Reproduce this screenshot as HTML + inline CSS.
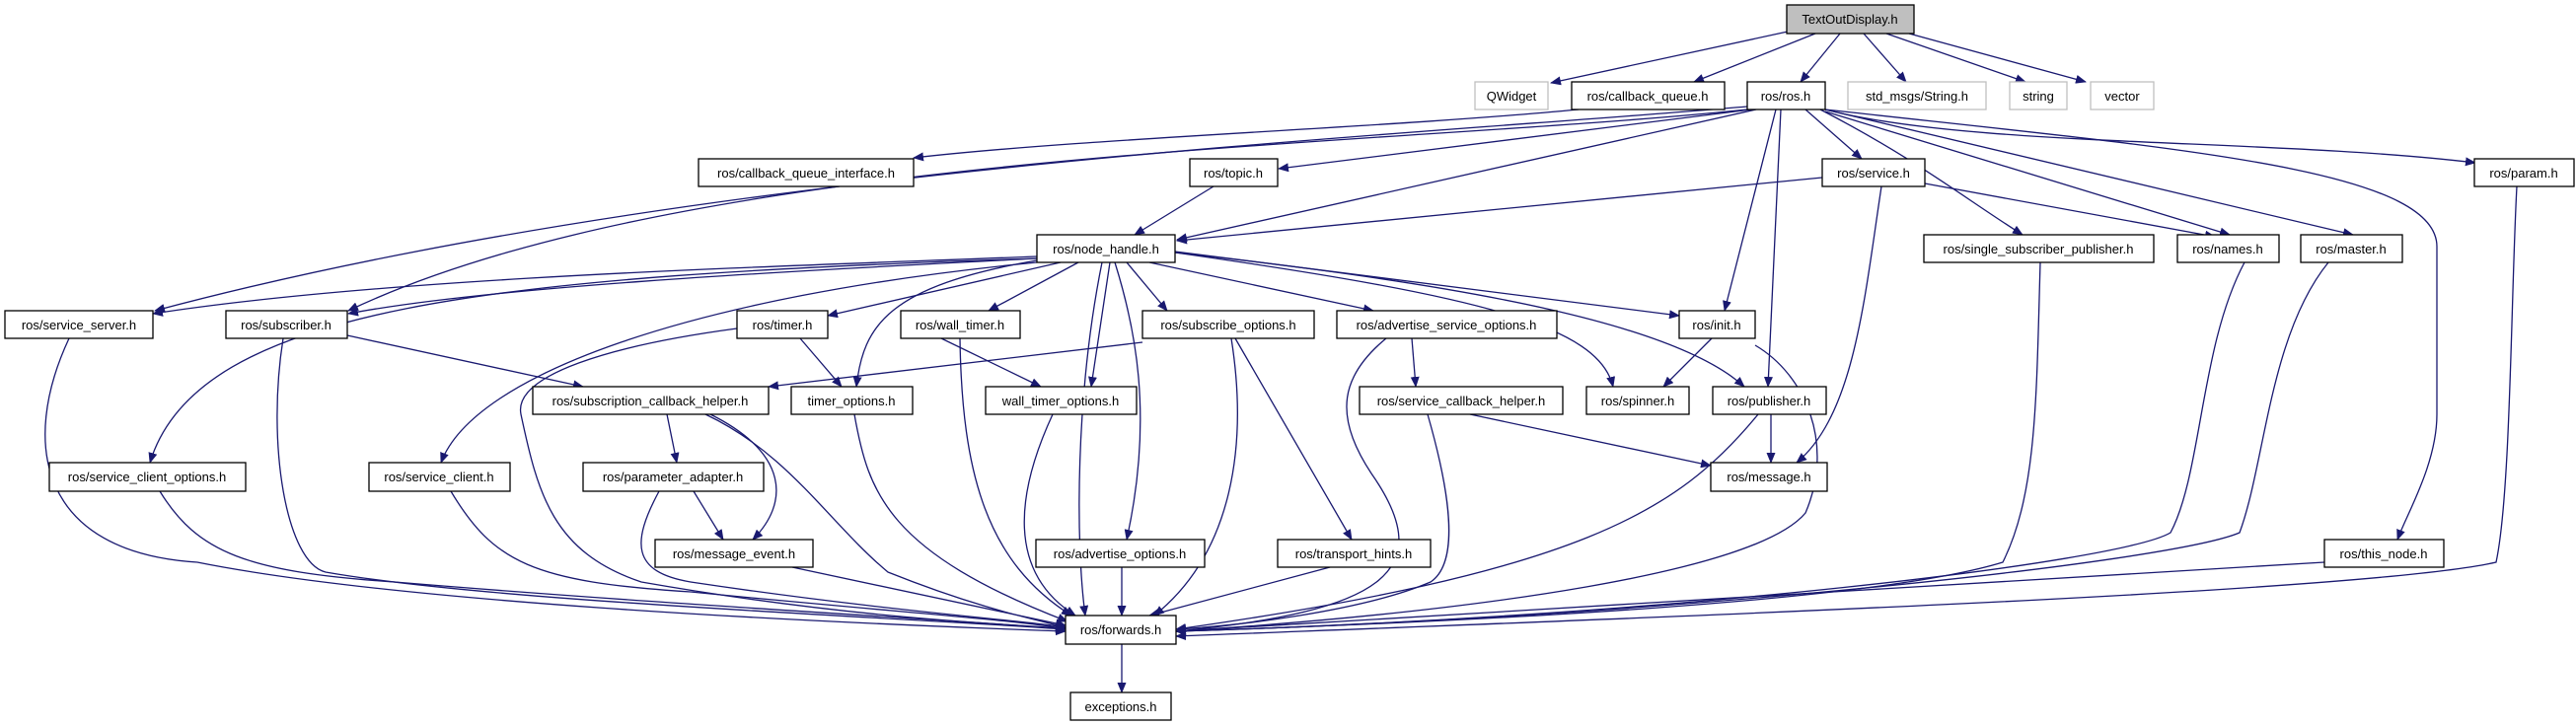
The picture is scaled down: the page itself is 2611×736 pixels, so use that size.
<!DOCTYPE html>
<html><head><meta charset="utf-8"><style>
html,body{margin:0;padding:0;background:#fff;}
svg{display:block;}
text{font-family:"Liberation Sans",sans-serif;font-size:13px;fill:#000;}
</style></head><body>
<svg width="2611" height="736" viewBox="0 0 2611 736" xmlns="http://www.w3.org/2000/svg">
<defs>
<marker id="a" markerWidth="11" markerHeight="9" refX="10" refY="4.5" orient="auto" markerUnits="userSpaceOnUse"><path d="M0,0 L11,4.5 L0,9z" fill="#191970"/></marker>
</defs>
<g fill="none" stroke="#191970" stroke-width="1.3" marker-end="url(#a)">
<path d="M1812,32 L1572,84"/>
<path d="M1840,34 L1717,83"/>
<path d="M1865,34 L1825,83"/>
<path d="M1889,34 L1932,83"/>
<path d="M1912,34 L2053,83"/>
<path d="M1935,34 L2114,83"/>
<path d="M1600,111 C1400,130 1100,140 926,160"/>
<path d="M1771,108 C1400,140 700,170 157,315"/>
<path d="M1771,111 C1400,150 700,150 353,315"/>
<path d="M1775,111 L1296,171"/>
<path d="M1780,111 L1193,243"/>
<path d="M1830,111 L1887,161"/>
<path d="M1800,111 L1748,315"/>
<path d="M1805,111 L1792,392"/>
<path d="M1845,111 C1940,160 1990,200 2050,238"/>
<path d="M1850,113 L2260,238"/>
<path d="M1850,111 L2385,238"/>
<path d="M1850,111 C2000,150 2300,140 2509,165"/>
<path d="M1850,111 C2200,150 2470,170 2470,250 L2470,420 C2470,470 2440,520 2430,547"/>
<path d="M1230,189 L1150,238"/>
<path d="M1847,180 L1193,244"/>
<path d="M1951,186 L2245,240"/>
<path d="M1907,189 C1890,300 1880,420 1821,469"/>
<path d="M1051,260 C800,270 400,280 155,318"/>
<path d="M1051,262 C800,275 500,290 353,318"/>
<path d="M1075,266 L839,320"/>
<path d="M1093,266 L1002,315"/>
<path d="M1051,264 C900,290 875,330 868,392"/>
<path d="M1125,266 L1106,392"/>
<path d="M1142,266 L1183,315"/>
<path d="M1165,266 L1392,315"/>
<path d="M1191,255 L1702,320"/>
<path d="M1191,256 C1500,300 1620,330 1635,392"/>
<path d="M1191,256 C1500,290 1700,330 1768,392"/>
<path d="M1130,266 C1150,330 1170,420 1142,547"/>
<path d="M1051,266 C700,300 480,380 447,469"/>
<path d="M1051,262 C500,280 200,310 152,469"/>
<path d="M352,340 L591,392"/>
<path d="M676,420 L686,469"/>
<path d="M720,420 C800,460 800,510 763,547"/>
<path d="M703,498 L733,547"/>
<path d="M811,343 L853,392"/>
<path d="M954,343 L1055,392"/>
<path d="M1158,347 L779,392"/>
<path d="M1252,343 L1370,547"/>
<path d="M1431,343 L1435,392"/>
<path d="M1490,420 L1734,472"/>
<path d="M1735,343 L1686,392"/>
<path d="M1795,420 L1795,469"/>
<path d="M1137,653 L1137,702"/>
<!-- to forwards -->
<path d="M1117,266 C1090,400 1090,550 1100,624"/>
<path d="M287,343 C270,450 290,570 330,580 C500,610 900,625 1080,638"/>
<path d="M70,343 C20,450 40,560 200,570 C400,610 800,630 1080,640"/>
<path d="M162,498 C200,560 250,580 400,590 C700,615 1000,630 1080,638"/>
<path d="M457,498 C500,570 540,590 700,600 C900,620 1050,630 1080,638"/>
<path d="M715,420 C800,460 840,530 900,580 C1000,620 1060,630 1080,636"/>
<path d="M668,498 C640,550 640,580 700,590 C900,620 1050,630 1080,636"/>
<path d="M803,575 L1080,634"/>
<path d="M747,333 C620,350 520,380 528,420 C545,500 560,560 650,590 C850,625 1000,632 1080,637"/>
<path d="M866,420 C880,500 900,560 1082,630"/>
<path d="M973,343 C975,480 1000,570 1086,624"/>
<path d="M1067,420 C1030,500 1020,580 1090,624"/>
<path d="M1248,343 C1265,450 1250,560 1170,624"/>
<path d="M1405,343 C1360,380 1350,420 1390,480 C1460,580 1400,620 1192,640"/>
<path d="M1447,420 C1470,500 1480,570 1450,590 C1380,620 1250,635 1192,638"/>
<path d="M1779,350 C1830,380 1860,450 1830,520 C1780,580 1500,620 1192,640"/>
<path d="M1782,420 C1700,520 1600,580 1192,638"/>
<path d="M1137,575 L1137,624"/>
<path d="M1348,575 L1165,624"/>
<path d="M2068,266 C2064,400 2065,500 2030,570 C1900,610 1500,630 1192,640"/>
<path d="M2275,266 C2230,350 2232,480 2200,540 C2150,570 1700,625 1192,640"/>
<path d="M2360,266 C2300,340 2296,470 2270,540 C2200,570 1700,625 1192,640"/>
<path d="M2356,570 L1192,640"/>
<path d="M2551,189 C2545,300 2545,500 2530,570 C2400,600 1700,625 1192,645"/>
</g>
<g stroke="#000" stroke-width="1.3" fill="#fff">
<rect x="1811" y="5" width="129" height="29" fill="#bfbfbf"/>
<rect x="1495" y="83" width="74" height="28" stroke="#bfbfbf"/>
<rect x="1593" y="83" width="155" height="28"/>
<rect x="1771" y="83" width="79" height="28"/>
<rect x="1873" y="83" width="140" height="28" stroke="#bfbfbf"/>
<rect x="2037" y="83" width="58" height="28" stroke="#bfbfbf"/>
<rect x="2119" y="83" width="64" height="28" stroke="#bfbfbf"/>
<rect x="708" y="161" width="218" height="28"/>
<rect x="1206" y="161" width="89" height="28"/>
<rect x="1847" y="161" width="104" height="28"/>
<rect x="2508" y="161" width="101" height="28"/>
<rect x="1051" y="238" width="140" height="28"/>
<rect x="1950" y="238" width="233" height="28"/>
<rect x="2207" y="238" width="103" height="28"/>
<rect x="2332" y="238" width="103" height="28"/>
<rect x="5" y="315" width="150" height="28"/>
<rect x="229" y="315" width="123" height="28"/>
<rect x="747" y="315" width="92" height="28"/>
<rect x="913" y="315" width="121" height="28"/>
<rect x="1158" y="315" width="174" height="28"/>
<rect x="1355" y="315" width="223" height="28"/>
<rect x="1702" y="315" width="77" height="28"/>
<rect x="540" y="392" width="239" height="28"/>
<rect x="802" y="392" width="123" height="28"/>
<rect x="999" y="392" width="153" height="28"/>
<rect x="1378" y="392" width="206" height="28"/>
<rect x="1608" y="392" width="104" height="28"/>
<rect x="1736" y="392" width="115" height="28"/>
<rect x="50" y="469" width="199" height="29"/>
<rect x="374" y="469" width="143" height="29"/>
<rect x="591" y="469" width="183" height="29"/>
<rect x="1734" y="469" width="118" height="29"/>
<rect x="664" y="547" width="160" height="28"/>
<rect x="1050" y="547" width="171" height="28"/>
<rect x="1295" y="547" width="155" height="28"/>
<rect x="2356" y="547" width="121" height="28"/>
<rect x="1080" y="624" width="112" height="29"/>
<rect x="1085" y="702" width="102" height="28"/>
</g>
<g text-anchor="middle">
<text x="1875" y="24">TextOutDisplay.h</text>
<text x="1532" y="102">QWidget</text>
<text x="1670" y="102">ros/callback_queue.h</text>
<text x="1810" y="102">ros/ros.h</text>
<text x="1943" y="102">std_msgs/String.h</text>
<text x="2066" y="102">string</text>
<text x="2151" y="102">vector</text>
<text x="817" y="180">ros/callback_queue_interface.h</text>
<text x="1250" y="180">ros/topic.h</text>
<text x="1899" y="180">ros/service.h</text>
<text x="2558" y="180">ros/param.h</text>
<text x="1121" y="257">ros/node_handle.h</text>
<text x="2066" y="257">ros/single_subscriber_publisher.h</text>
<text x="2258" y="257">ros/names.h</text>
<text x="2383" y="257">ros/master.h</text>
<text x="80" y="334">ros/service_server.h</text>
<text x="290" y="334">ros/subscriber.h</text>
<text x="793" y="334">ros/timer.h</text>
<text x="973" y="334">ros/wall_timer.h</text>
<text x="1245" y="334">ros/subscribe_options.h</text>
<text x="1466" y="334">ros/advertise_service_options.h</text>
<text x="1740" y="334">ros/init.h</text>
<text x="659" y="411">ros/subscription_callback_helper.h</text>
<text x="863" y="411">timer_options.h</text>
<text x="1075" y="411">wall_timer_options.h</text>
<text x="1481" y="411">ros/service_callback_helper.h</text>
<text x="1660" y="411">ros/spinner.h</text>
<text x="1793" y="411">ros/publisher.h</text>
<text x="149" y="488">ros/service_client_options.h</text>
<text x="445" y="488">ros/service_client.h</text>
<text x="682" y="488">ros/parameter_adapter.h</text>
<text x="1793" y="488">ros/message.h</text>
<text x="744" y="566">ros/message_event.h</text>
<text x="1135" y="566">ros/advertise_options.h</text>
<text x="1372" y="566">ros/transport_hints.h</text>
<text x="2416" y="566">ros/this_node.h</text>
<text x="1136" y="643">ros/forwards.h</text>
<text x="1136" y="721">exceptions.h</text>
</g>
</svg>
</body></html>
